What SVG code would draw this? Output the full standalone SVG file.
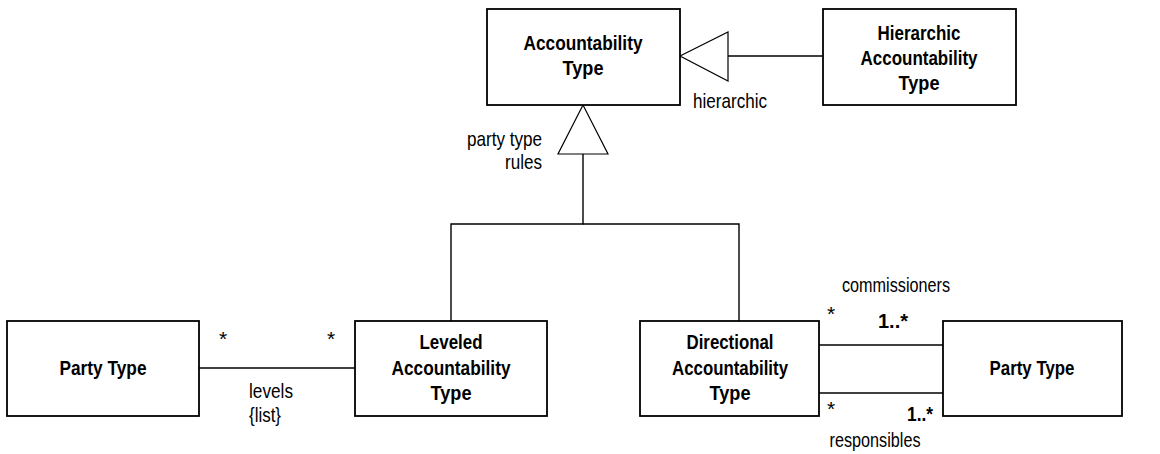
<svg xmlns="http://www.w3.org/2000/svg" width="1160" height="454" viewBox="0 0 1160 454">
<style>
.box{fill:#fff;stroke:#000;stroke-width:1.8}
.ln{fill:none;stroke:#000;stroke-width:1.4}
.tri{fill:#fff;stroke:#000;stroke-width:1.2}
.t{font-family:"Liberation Sans",Arial,sans-serif;font-size:21px;fill:#000}
.b{font-weight:bold;text-anchor:middle}
.m{text-anchor:middle}
.e{text-anchor:end}
</style>
<rect width="1160" height="454" fill="#fff"/>
<g id="connectors">
<line class="ln" x1="728" y1="56" x2="823" y2="56"/>
<polygon class="tri" points="680,56 728,32 728,81"/>
<polyline class="ln" points="583,154 583,224 451,224 451,321"/>
<polyline class="ln" points="583,224 739,224 739,321"/>
<polygon class="tri" points="583,105 558,154 608,154"/>
<line class="ln" x1="199" y1="368" x2="355" y2="368"/>
<line class="ln" x1="819" y1="345" x2="943" y2="345"/>
<line class="ln" x1="819" y1="393" x2="943" y2="393"/>
</g>
<g id="labels" class="t">
<text x="693" y="108" textLength="74" lengthAdjust="spacingAndGlyphs">hierarchic</text>
<text x="542" y="146" class="e" textLength="75" lengthAdjust="spacingAndGlyphs">party type</text>
<text x="542" y="169" class="e" textLength="37" lengthAdjust="spacingAndGlyphs">rules</text>
<text x="223" y="346" class="m">*</text>
<text x="331" y="346" class="m">*</text>
<text x="249" y="398" textLength="44" lengthAdjust="spacingAndGlyphs">levels</text>
<text x="249" y="422" textLength="32" lengthAdjust="spacingAndGlyphs">{list}</text>
<text x="896" y="292" class="m" textLength="108" lengthAdjust="spacingAndGlyphs">commissioners</text>
<text x="831" y="321" class="m">*</text>
<text x="893" y="328" class="m" font-weight="bold" textLength="30" lengthAdjust="spacingAndGlyphs">1..*</text>
<text x="831" y="416" class="m">*</text>
<text x="920" y="421" class="m" font-weight="bold" textLength="26" lengthAdjust="spacingAndGlyphs">1..*</text>
<text x="875" y="447" class="m" textLength="91" lengthAdjust="spacingAndGlyphs">responsibles</text>
</g>
<g id="accountability-type">
<rect class="box" x="487" y="9" width="193" height="96"/>
<text class="t b" x="583" y="50" textLength="119" lengthAdjust="spacingAndGlyphs">Accountability</text>
<text class="t b" x="583" y="75" textLength="41" lengthAdjust="spacingAndGlyphs">Type</text>
</g>
<g id="hierarchic-accountability-type">
<rect class="box" x="823" y="9" width="193" height="96"/>
<text class="t b" x="919" y="40" textLength="83" lengthAdjust="spacingAndGlyphs">Hierarchic</text>
<text class="t b" x="919" y="65" textLength="117" lengthAdjust="spacingAndGlyphs">Accountability</text>
<text class="t b" x="919" y="90" textLength="41" lengthAdjust="spacingAndGlyphs">Type</text>
</g>
<g id="party-type-left">
<rect class="box" x="7" y="321" width="192" height="95"/>
<text class="t b" x="103" y="375" textLength="87" lengthAdjust="spacingAndGlyphs">Party Type</text>
</g>
<g id="leveled-accountability-type">
<rect class="box" x="355" y="321" width="192" height="95"/>
<text class="t b" x="451" y="349" textLength="63" lengthAdjust="spacingAndGlyphs">Leveled</text>
<text class="t b" x="451" y="375" textLength="119" lengthAdjust="spacingAndGlyphs">Accountability</text>
<text class="t b" x="451" y="400" textLength="41" lengthAdjust="spacingAndGlyphs">Type</text>
</g>
<g id="directional-accountability-type">
<rect class="box" x="640" y="321" width="179" height="95"/>
<text class="t b" x="730" y="349" textLength="87" lengthAdjust="spacingAndGlyphs">Directional</text>
<text class="t b" x="730" y="375" textLength="116" lengthAdjust="spacingAndGlyphs">Accountability</text>
<text class="t b" x="730" y="400" textLength="41" lengthAdjust="spacingAndGlyphs">Type</text>
</g>
<g id="party-type-right">
<rect class="box" x="943" y="321" width="179" height="95"/>
<text class="t b" x="1032" y="375" textLength="85" lengthAdjust="spacingAndGlyphs">Party Type</text>
</g>
</svg>
